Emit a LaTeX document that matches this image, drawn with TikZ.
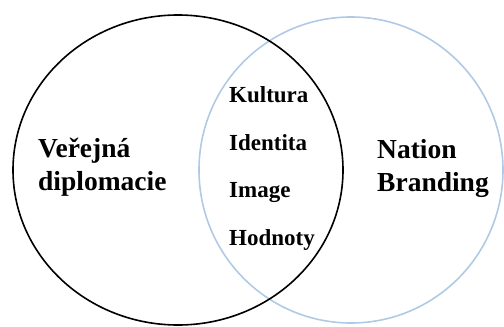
\documentclass[tikz,border=0pt]{standalone}
\usepackage{fontspec}
\setmainfont{Liberation Serif}
\usepackage{xcolor}
\usepackage{tikz}
\usetikzlibrary{positioning}
\definecolor{brandblue}{HTML}{B0CAE6}

\begin{document}
\begin{tikzpicture}[x=1pt, y=-1pt,
  kruh/.style={line width=1.6pt},
  popis/.style={inner sep=0pt, align=left, font=\bfseries\fontsize{27.5}{33}\selectfont},
  hodnota/.style={inner sep=0pt, anchor=base west, font=\bfseries\fontsize{23}{28}\selectfont}]
\useasboundingbox (0,0) rectangle (504,327);
\draw[kruh, brandblue] (351,170) ellipse [x radius=152, y radius=153];
\draw[kruh, black] (178,170) ellipse [x radius=165, y radius=155];
\node[popis, anchor=west] (vd) at (38,167) {Veřejná\\diplomacie};
\node[popis, anchor=west] (nb) at (377,168) {Nation\\Branding};
\node[hodnota] (kul) at (229,102) {Kultura};
\node[hodnota] (ide) at (229,150) {Identita};
\node[hodnota] (img) at (229,197) {Image};
\node[hodnota] (hod) at (229,245) {Hodnoty};
\end{tikzpicture}
\end{document}
